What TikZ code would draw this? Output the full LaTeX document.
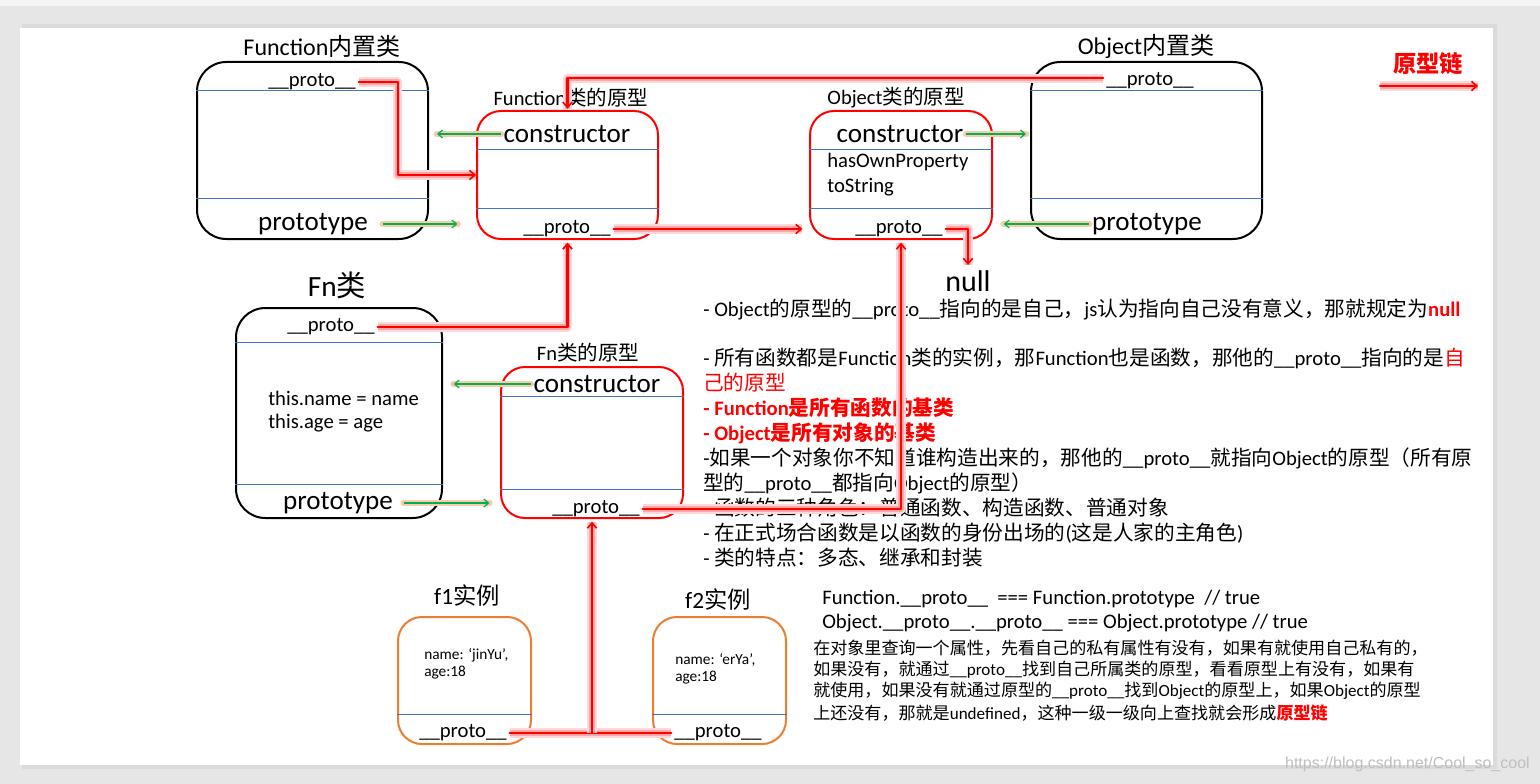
\documentclass[tikz,border=0pt]{standalone}
\usepackage{fontspec}
\setmainfont{Carlito}
\newfontfamily\cjkfont{Noto Sans CJK SC}
\newfontfamily\wmfont{Liberation Sans}
\usepackage{xcolor}
\usetikzlibrary{arrows.meta, fit}

% Chinese characters get the CJK font
\XeTeXinterchartokenstate=1
\newXeTeXintercharclass\hanclass
\makeatletter
\def\sethan#1#2{\count@=#1\relax
  \loop\XeTeXcharclass\count@=\hanclass\advance\count@\@ne\ifnum\count@<#2\relax\repeat}
\sethan{"3000}{"3040}
\sethan{"4E00}{"A000}
\sethan{"FF00}{"FF60}
\makeatother
\XeTeXinterchartoks 0 \hanclass={\cjkfont}
\XeTeXinterchartoks 4095 \hanclass={\cjkfont}
\XeTeXinterchartoks \hanclass 0={\rmfamily}
\XeTeXinterchartoks \hanclass 4095={\rmfamily}

\definecolor{sepblue}{HTML}{4472C4}
\definecolor{boxorange}{HTML}{ED7D31}
\definecolor{arrgreen}{HTML}{00B050}
\definecolor{glowora}{HTML}{F8CBAD}
\definecolor{pagegray}{HTML}{E6E6E6}

\newcommand\pto{\_\_proto\_\_}

\begin{document}
\begin{tikzpicture}[x=0.75pt, y=-0.75pt, line join=round,
  box/.style={draw=#1, line width=1.5pt, rounded corners=18pt, inner sep=0pt},
  clsbox/.style={box=black, rounded corners=22pt},
  sepline/.style={draw=sepblue, line width=0.75pt},
  ttl/.style={font=\fontsize{18}{22}\selectfont, inner sep=1pt},
  subttl/.style={font=\fontsize{15.4}{18}\selectfont, inner sep=1pt},
  fld/.style={font=\fontsize{15.5}{18}\selectfont, inner sep=2pt},
  bigfld/.style={font=\fontsize{20.3}{24}\selectfont, inner sep=2pt},
  note/.style={font=\fontsize{15.5}{18}\selectfont, anchor=west, inner sep=0pt},
  inst/.style={font=\fontsize{11.5}{14}\selectfont, anchor=west, inner sep=0pt},
  para/.style={font=\fontsize{12.8}{15}\selectfont, anchor=west, inner sep=0pt},
  chain/.style={draw=red, line width=1.6pt, line cap=round,
    -{Straight Barb[length=4pt,width=7pt,line width=1.2pt]},
    preaction={draw=red!15, line width=7pt, -},
    preaction={draw=red!35, line width=4pt, -}},
  ctor/.style={draw=arrgreen, line width=0.9pt,
    -{Straight Barb[length=3.5pt,width=6pt]},
    preaction={draw=glowora, line width=5pt, line cap=round, -}}]

  \useasboundingbox (0,0) rectangle (1540,784);
  % page
  \fill[pagegray] (0,0) rectangle (1540,784);
  \fill[black!4] (0,0) rectangle (1540,6);
  \fill[black!14] (22,24) rectangle (1497,769);
  \fill[white] (20,28) rectangle (1493,765);

  % boxes
  \node[clsbox, fit={(197,62) (428,239)}] (fnc) {};
  \node[box=red, fit={(477,111) (658,239)}] (fpc) {};
  \node[box=red, fit={(810,111) (992,239)}] (opc) {};
  \node[clsbox, fit={(1031,62) (1262,239)}] (oc) {};
  \node[clsbox, fit={(236,308) (442,518)}] (fn) {};
  \node[box=red, fit={(501,367) (683,518)}] (fnp) {};
  \node[box=boxorange, fit={(398,617) (531,744)}] (fa) {};
  \node[box=boxorange, fit={(653,617) (786,744)}] (fb) {};
  \foreach \b/\y in {fnc/91, fnc/199, fpc/150, fpc/209, opc/150, opc/209, oc/91, oc/199,
                     fn/342, fn/484, fnp/396, fnp/489, fa/714, fb/714}
    \draw[sepline] (\b.west |- 0,\y) -- (\b.east |- 0,\y);

  % titles
  \node[ttl] (tfnc) at (322,46) {Function内置类};
  \node[subttl] (tfpc) at (571,98) {Function类的原型};
  \node[subttl] (topc) at (896,98) {Object类的原型};
  \node[ttl] (toc) at (1146,46) {Object内置类};
  \node[ttl, font=\fontsize{22}{26}\selectfont] (tfn) at (337,285) {Fn类};
  \node[subttl] (tfnp) at (588,353) {Fn类的原型};
  \node[ttl, font=\fontsize{17.5}{21}\selectfont] (tfa) at (467,596) {f1实例};
  \node[ttl, font=\fontsize{17.5}{21}\selectfont] (tfb) at (718,600) {f2实例};

  % fields
  \node[fld] (fproto) at (312,82) {\pto};
  \node[bigfld] (fprototype) at (313,224) {prototype};
  \node[bigfld] (fpcons) at (567,134) {constructor};
  \node[fld] (fpproto) at (567,229) {\pto};
  \node[bigfld] (opcons) at (900,134) {constructor};
  \node[note] (ophas) at (827,162) {hasOwnProperty};
  \node[note] (optos) at (827,187) {toString};
  \node[fld] (opproto) at (899,229) {\pto};
  \node[fld] (oproto) at (1150,81) {\pto};
  \node[bigfld] (oprototype) at (1147,224) {prototype};
  \node[fld] (fnproto) at (331,327) {\pto};
  \node[note] (fnname) at (268,398) {this.name = name};
  \node[note] (fnage) at (268,423) {this.age = age};
  \node[bigfld] (fnprototype) at (338,503) {prototype};
  \node[bigfld] (fnpcons) at (597,384) {constructor};
  \node[fld] (fnpproto) at (596,509) {\pto};
  \node[inst] (faname) at (424,655) {name: ‘jinYu’,};
  \node[inst] (faage) at (424,673) {age:18};
  \node[fld] (faproto) at (463,733) {\pto};
  \node[inst] (fbname) at (675,660) {name: ‘erYa’,};
  \node[inst] (fbage) at (675,678) {age:18};
  \node[fld] (fbproto) at (718,733) {\pto};
  \node[font=\fontsize{22.5}{26}\selectfont, inner sep=1pt] (nul) at (968,281) {null};

  % legend
  \node[font=\fontsize{17.5}{21}\selectfont\bfseries, text=red] (lgd) at (1428,64) {原型链};
  \coordinate (lgA) at (1380,86);
  \coordinate (lgB) at (1478,86);
  \draw[chain] (lgA) -- (lgB);

  % notes
  \node[note] (t1) at (703,309) {- Object的原型的\pto 指向的是自己，js认为指向自己没有意义，那就规定为{\bfseries\color{red}null}};
  \node[note] (t2) at (703,358) {- 所有函数都是Function类的实例，那Function也是函数，那他的\pto 指向的是{\color{red}自}};
  \node[note, text=red] (t3) at (703,383) {己的原型};
  \node[note, text=red, font=\fontsize{15.5}{18}\selectfont\bfseries] (t4) at (703,408) {- Function是所有函数的基类};
  \node[note, text=red, font=\fontsize{15.5}{18}\selectfont\bfseries] (t5) at (703,433) {- Object是所有对象的基类};
  \node[note] (t6) at (703,458) {-如果一个对象你不知道谁构造出来的，那他的\pto 就指向Object的原型（所有原};
  \node[note] (t7) at (703,483) {型的\pto 都指向Object的原型）};
  \node[note] (t8) at (703,508) {- 函数的三种角色：普通函数、构造函数、普通对象};
  \node[note] (t9) at (703,533) {- 在正式场合函数是以函数的身份出场的(这是人家的主角色)};
  \node[note] (t10) at (703,558) {- 类的特点：多态、继承和封装};
  \node[note] (c1) at (822,599) {Function.\pto\ \ === Function.prototype\ \ // true};
  \node[note] (c2) at (822,623) {Object.\pto.\pto\ === Object.prototype // true};
  \node[para] (p1) at (813,648) {在对象里查询一个属性，先看自己的私有属性有没有，如果有就使用自己私有的，};
  \node[para] (p2) at (813,670) {如果没有，就通过\pto 找到自己所属类的原型，看看原型上有没有，如果有};
  \node[para] (p3) at (813,691) {就使用，如果没有就通过原型的\pto 找到Object的原型上，如果Object的原型};
  \node[para] (p4) at (813,713) {上还没有，那就是undefined，这种一级一级向上查找就会形成{\bfseries\color{red}原型链}};

  % prototype chain
  \draw[chain] (fproto.east) -- ++(39,0) |- (fpc.west);
  \draw[chain, shorten >=1pt] ([yshift=2pt]oproto.west) -| (fpc.north);
  \draw[chain, shorten >=5pt] (fpproto.east) -- (fpproto.east -| opc.west);
  \draw[chain, shorten >=3pt] (opproto.east) -| (nul.north);
  \draw[chain, shorten >=2pt] (fnproto.east) -| (fpc.south);
  \draw[chain, shorten >=2pt] (fnpproto.east) -| (opc.south);
  \draw[chain, -] (faproto.east) -- (fbproto.west);
  \draw[chain, shorten >=2pt] (faproto.east -| fnp.south) -- (fnp.south);

  % constructor and prototype
  \draw[ctor, shorten >=6pt] (fpcons.west) -- (fpcons.west -| fnc.east);
  \draw[ctor, shorten <=9pt, shorten >=14pt] (fprototype.east) -- (fprototype.east -| fpc.west);
  \draw[ctor, shorten >=3pt] (opcons.east) -- (opcons.east -| oc.west);
  \draw[ctor, shorten >=8pt] (oprototype.west) -- (oprototype.west -| opc.east);
  \draw[ctor, shorten >=8pt] (fnpcons.west) -- (fnpcons.west -| fn.east);
  \draw[ctor, shorten <=6pt, shorten >=8pt] (fnprototype.east) -- (fnprototype.east -| fnp.west);

  \node[font=\wmfont\fontsize{12}{14}\selectfont, text=black!25, anchor=east, inner sep=0pt] (wm) at (1530,764) {https://blog.csdn.net/Cool\_so\_cool};
\end{tikzpicture}
\end{document}
